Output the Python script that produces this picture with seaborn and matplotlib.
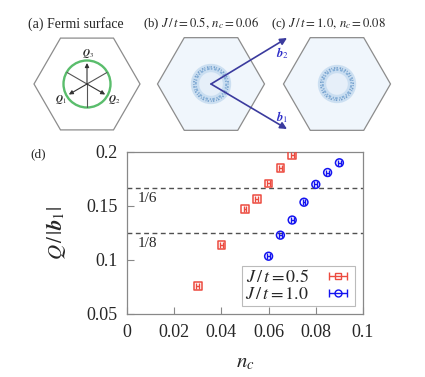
import numpy as np
import pandas as pd
import seaborn as sns
import matplotlib.pyplot as plt
from matplotlib.patches import Polygon, Circle

# data
nc_05 = [0.030, 0.040, 0.050, 0.055, 0.060, 0.065, 0.070]
q_05 = [0.076, 0.114, 0.1475, 0.1565, 0.171, 0.185, 0.197]
err_05 = [0.0007, 0.0007, 0.0006, 0.0007, 0.0007, 0.0006, 0.0007]

nc_10 = [0.060, 0.065, 0.070, 0.075, 0.080, 0.085, 0.090]
q_10 = [0.1035, 0.123, 0.137, 0.1535, 0.170, 0.181, 0.190]
err_10 = [0.0006, 0.0006, 0.0006, 0.0006, 0.0007, 0.0007, 0.0006]

series_labels = [r'$J\,/\,t = 0.5$', r'$J\,/\,t = 1.0$']
fractions = [1 / 6, 1 / 8]
fraction_labels = ['1/6', '1/8']
x_ticks = [0, 0.02, 0.04, 0.06, 0.08, 0.1]
x_ticklabels = ['0', '0.02', '0.04', '0.06', '0.08', '0.1']
y_ticks = [0.05, 0.1, 0.15, 0.2]
y_ticklabels = ['0.05', '0.1', '0.15', '0.2']

red = '#ec4a3f'
blue = '#1414f0'
navy = '#3b3b9e'

sns.set_theme(style='ticks')
plt.rcParams['font.family'] = ['Liberation Serif', 'DejaVu Serif']
plt.rcParams['mathtext.fontset'] = 'stix'

fig = plt.figure(figsize=(4.25, 3.77), dpi=100)

# ---- top schematic panels, drawn in pixel coordinates ----
ov = fig.add_axes([0, 0, 1, 1])
ov.set_xlim(0, 425)
ov.set_ylim(377, 0)
ov.axis('off')


def hexagon(cx, cy, r, fill):
    ang = np.deg2rad(np.arange(0, 360, 60))
    pts = np.column_stack([cx + r * np.cos(ang), cy + r * np.sin(ang)])
    ov.add_patch(Polygon(pts, closed=True, facecolor=fill, edgecolor='#8c8c8c', lw=0.9))


def ring(cx, cy, r):
    ov.add_patch(Circle((cx, cy), r, facecolor='#e6eff9', edgecolor='none'))
    ov.add_patch(Circle((cx, cy), r, fill=False, edgecolor='#c3daef', lw=6, alpha=0.8))
    ov.add_patch(Circle((cx, cy), r - 0.8, fill=False, edgecolor='#5a90c6', lw=1.4,
                        ls=(0, (0.7, 0.9, 1.3, 0.6)), alpha=0.6))
    ov.add_patch(Circle((cx, cy), r + 1.2, fill=False, edgecolor='#3a76b4', lw=1.2,
                        ls=(0, (0.5, 1.1, 0.9, 0.7)), alpha=0.6))


# (a) Fermi surface
hexagon(87, 84, 53, 'white')
ov.add_patch(Circle((87, 84), 23.5, fill=False, edgecolor='#5abd6c', lw=1.7))
for a in [90, 210, 330]:
    t = np.deg2rad(a)
    ov.plot([87 - 23 * np.cos(t), 87], [84 + 23 * np.sin(t), 84], color='#555555', lw=0.8)
    ov.annotate('', xy=(87 + 21 * np.cos(t), 84 - 21 * np.sin(t)), xytext=(87, 84),
                arrowprops=dict(arrowstyle='-|>', color='#333333', lw=0.8,
                                mutation_scale=6, shrinkA=0, shrinkB=0))
ov.text(88, 54, r'$\mathbfit{Q}_3$', fontsize=7, ha='center', va='center')
ov.text(61, 99, r'$\mathbfit{Q}_1$', fontsize=7, ha='center', va='center')
ov.text(114, 100, r'$\mathbfit{Q}_2$', fontsize=7, ha='center', va='center')
ov.text(76, 24, '(a) Fermi surface', fontsize=10, ha='center', va='center')

# (b) and (c) structure factors
hexagon(211, 84, 53.5, '#f0f6fc')
ring(211, 84, 16)
hexagon(337, 84, 53.5, '#f0f6fc')
ring(337, 84, 15)
ov.text(143, 24, r'(b) $J\,/\,t = 0.5,\, n_c = 0.06$', fontsize=9.2, ha='left', va='center')
ov.text(271, 24, r'(c) $J\,/\,t = 1.0,\, n_c = 0.08$', fontsize=9.2, ha='left', va='center')

for tip in [(287, 38), (287, 129)]:
    ov.annotate('', xy=tip, xytext=(211, 84),
                arrowprops=dict(arrowstyle='-|>', color=navy, lw=1.2,
                                mutation_scale=10, shrinkA=0, shrinkB=0))
ov.text(282, 53, r'$\mathbfit{b}_2$', fontsize=9, color='#2d2dc8', ha='center', va='center')
ov.text(282, 117, r'$\mathbfit{b}_1$', fontsize=9, color='#2d2dc8', ha='center', va='center')

# ---- (d) main plot ----
ax = fig.add_axes([127 / 425, 1 - 314 / 377, 236 / 425, 162 / 377])

for f, lab in zip(fractions, fraction_labels):
    ax.axhline(f, color='#505050', lw=1.0, ls=(0, (3.5, 2.5)), zorder=1)
    ax.text(0.0045, f - 0.0035, lab, fontsize=11, ha='left', va='top')

df05 = pd.DataFrame({'nc': nc_05, 'Q': q_05})
df10 = pd.DataFrame({'nc': nc_10, 'Q': q_10})
sns.scatterplot(data=df05, x='nc', y='Q', marker='s', s=30, color=red,
                facecolor='none', edgecolor=red, linewidth=1.1, ax=ax, zorder=3)
sns.scatterplot(data=df10, x='nc', y='Q', marker='o', s=32, color=blue,
                facecolor='none', edgecolor=blue, linewidth=1.1, ax=ax, zorder=3)
ax.errorbar(nc_05, q_05, xerr=err_05, fmt='none', ecolor=red, elinewidth=1, capsize=2.2, zorder=3)
ax.errorbar(nc_10, q_10, xerr=err_10, fmt='none', ecolor=blue, elinewidth=1, capsize=2.2, zorder=3)

# legend proxies
h1 = ax.errorbar([np.nan], [np.nan], xerr=[0.001], fmt='s', ms=5, mfc='none', mec=red,
                 color=red, elinewidth=1, capsize=3, label=series_labels[0])
h2 = ax.errorbar([np.nan], [np.nan], xerr=[0.001], fmt='o', ms=5, mfc='none', mec=blue,
                 color=blue, elinewidth=1, capsize=3, label=series_labels[1])
leg = ax.legend(handles=[h1, h2], loc='lower right', markerfirst=False, fontsize=13,
                frameon=True, fancybox=False, edgecolor='#bbbbbb', framealpha=1,
                handlelength=1.6, handletextpad=0.8, borderpad=0.15, labelspacing=0.0,
                borderaxespad=0.45)
leg.get_frame().set_linewidth(0.8)

ax.set_xlim(0, 0.1)
ax.set_ylim(0.05, 0.2)
ax.set_xticks(x_ticks)
ax.set_xticklabels(x_ticklabels)
ax.set_yticks(y_ticks)
ax.set_yticklabels(y_ticklabels)
ax.tick_params(direction='in', length=5, width=0.8, color='#888888', labelsize=13, pad=7)
for s in ax.spines.values():
    s.set_color('#888888')
    s.set_linewidth(0.9)
ax.set_xlabel(r'$n_c$', fontsize=15, labelpad=9)
ax.set_ylabel(r'$Q\,/\,|\mathbfit{b}_1|$', fontsize=15, labelpad=13)

fig.text(30 / 425, 1 - 154 / 377, '(d)', fontsize=9.5, ha='left', va='center')

fig.savefig('out.png', dpi=100)
